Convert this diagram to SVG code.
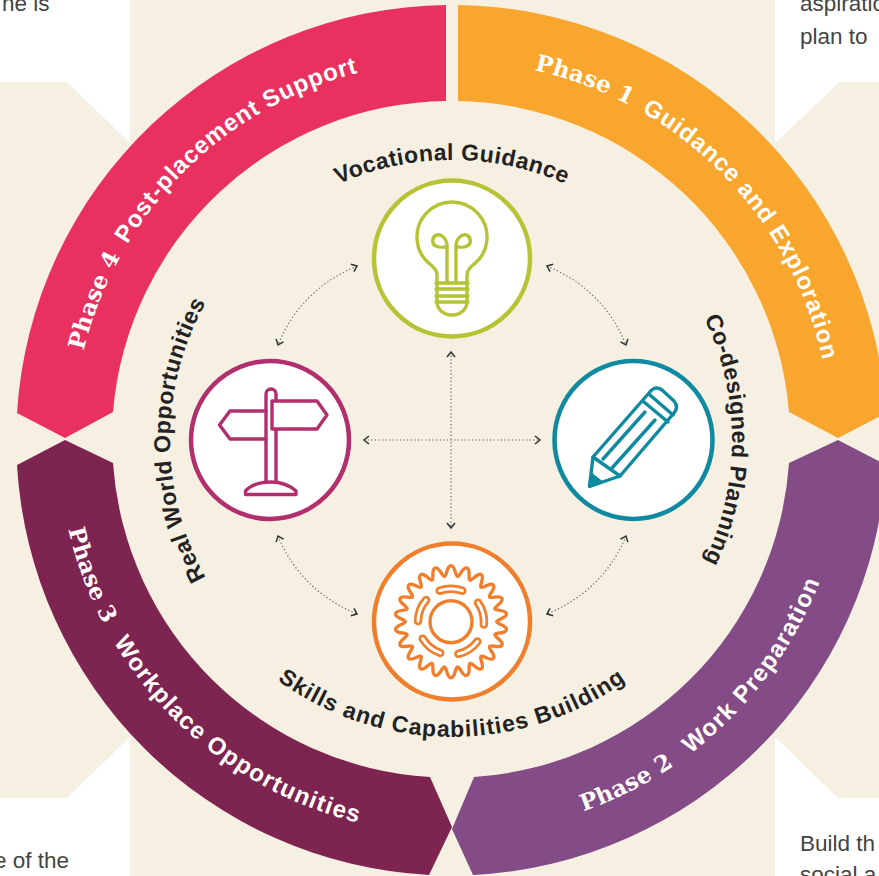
<svg xmlns="http://www.w3.org/2000/svg" width="879" height="876" viewBox="0 0 879 876">
<style>
.bg{fill:#f6f0e3}
.side{font-family:"Liberation Sans",Arial,sans-serif;font-size:22.5px;fill:#444}
.ph{font-family:"Liberation Sans",Arial,sans-serif;font-weight:700;font-size:24px;letter-spacing:.8px;fill:#fff}
.ph.wide{letter-spacing:1.2px}
.ser{font-family:"DejaVu Serif",serif;font-weight:700;font-size:23px;letter-spacing:.2px}
.lab{font-family:"Liberation Sans",Arial,sans-serif;font-weight:700;font-size:23px;letter-spacing:.45px;fill:#222}
.lab.wide{letter-spacing:1px}
.disc{fill:#fff;stroke-width:4.5}
.ic{fill:none;stroke-width:3.4;stroke-linejoin:round;stroke-linecap:round}
.con{fill:none;stroke:#555;stroke-width:1.1;stroke-dasharray:1.2 2.4;marker-start:url(#chev);marker-end:url(#chev)}
</style>
<defs>
<marker id="chev" viewBox="0 0 10 10" refX="8" refY="5" markerWidth="10" markerHeight="10" markerUnits="userSpaceOnUse" orient="auto-start-reverse">
<path d="M3 1L8 5L3 9" fill="none" stroke="#333" stroke-width="1.5"/>
</marker>
<path id="a1" d="M452 61A379 379 0 0 1 831 440"/>
<path id="a4" d="M73 440A379 379 0 0 1 452 61"/>
<path id="a3" d="M58 440A394 394 0 0 0 452 834"/>
<path id="a2" d="M452 834A394 394 0 0 0 846 440"/>
<path id="v" d="M172 440A280 280 0 0 1 732 440"/>
<path id="c" d="M452 160A280 280 0 0 1 452 720"/>
<path id="r" d="M452 722A282 282 0 0 1 452 158"/>
<path id="s" d="M155 440A297 297 0 0 0 749 440"/>
<path id="tooth" d="M-6.55 -45.5C-4 -45.5 -4.5 -56 0 -56C4.5 -56 4 -45.5 6.55 -45.5"/>
<path id="slot" d="M-11.3 -31A33 33 0 0 1 11.3 -31"/>
<g id="slotc"><use href="#slot" stroke="#ef7f2d" stroke-width="8.5" stroke-linecap="round" fill="none"/><use href="#slot" stroke="#fff" stroke-width="3" stroke-linecap="round" fill="none"/></g>
</defs>
<rect width="879" height="876" fill="#fff"/>
<g id="background">
<rect class="bg" x="130" y="0" width="645" height="876"/>
<path class="bg" d="M0 82H67L130 143V737L67 798H0Z"/>
<path class="bg" d="M879 82H840L775 143V737L838 798H879Z"/>
</g>
<g id="side-text">
<text class="side" x="2" y="11">ne is</text>
<text class="side" x="800" y="11">aspiratio</text>
<text class="side" x="800" y="44">plan to</text>
<text class="side" x="800" y="851">Build th</text>
<text class="side" x="800" y="882">social a</text>
<text class="side" x="-6" y="868">e of the</text>
</g>
<g id="phase-1">
<path fill="#f8a62d" d="M458 5A435 435 0 0 1 886 413L838 438L789 412A339 339 0 0 0 458 101Z"/>
<text class="ph"><textPath href="#a1" startOffset="83"><tspan class="ser">Phase 1</tspan><tspan dx="6"> Guidance and Exploration</tspan></textPath></text>
</g>
<g id="phase-2">
<path fill="#834c86" d="M886 465L838 440L789 463A338 338 0 0 1 474 777L452 829L473 875A436 436 0 0 0 886 465Z"/>
<text class="ph wide"><textPath href="#a2" startOffset="134"><tspan class="ser">Phase 2</tspan><tspan dx="12"> Work Preparation</tspan></textPath></text>
</g>
<g id="phase-3">
<path fill="#7d2450" d="M17 465L65 440L113 463A338 338 0 0 0 430 777L452 827L429 875A436 436 0 0 1 17 465Z"/>
<text class="ph wide"><textPath href="#a3" startOffset="90"><tspan class="ser">Phase 3</tspan><tspan dx="12"> Workplace Opportunities</tspan></textPath></text>
</g>
<g id="phase-4">
<path fill="#e8315f" d="M446 5A435 435 0 0 0 17 413L65 438L113 412A339 339 0 0 1 446 101Z"/>
<text class="ph"><textPath href="#a4" startOffset="90"><tspan class="ser">Phase 4</tspan><tspan dx="6"> Post-placement Support</tspan></textPath></text>
</g>
<g id="connectors">
<path class="con" d="M451 352V528"/>
<path class="con" d="M364 440H540"/>
<path class="con" d="M357 266Q300 290 278 345"/>
<path class="con" d="M547 266Q604 290 626 345"/>
<path class="con" d="M626 536Q604 590 547 614"/>
<path class="con" d="M278 536Q300 590 357 614"/>
</g>
<g id="vocational-guidance">
<circle class="disc" cx="452" cy="258.500" r="78" stroke="#b5c334"/>
<g class="ic" stroke="#b5c334">
<path d="M437 283V275Q437 270 431 265A35 35 0 1 1 473 265Q467 270 467 275V283"/>
<path d="M436 283H468M436 289H468M436 296H468M436 302H468"/>
<path d="M437 283V302A15 13 0 0 0 467 302V283"/>
<path d="M447 283V246C447 238 441 234 437 235C432 236 431 244 436 246C440 248 445 247 447 246"/>
<path d="M456 283V246C456 238 462 234 466 235C471 236 472 244 467 246C463 248 458 247 456 246"/>
</g>
<text class="lab"><textPath href="#v" startOffset="50%" text-anchor="middle">Vocational Guidance</textPath></text>
</g>
<g id="co-designed-planning">
<circle class="disc" cx="633.500" cy="440" r="79" stroke="#0f8aa0"/>
<g class="ic" stroke="#0f8aa0">
<path d="M593 457L649 393Q655 385 662 390L674 401Q679 407 674 413L620 476Z"/>
<path d="M593 457L589.500 486.500L620 476"/>
<path d="M603 459L645 412M612 468L655 420"/>
<path d="M644 402L668 422M650 395L673 415"/>
<path d="M590 486L592 475L601 482Z" fill="#0f8aa0"/>
</g>
<text class="lab"><textPath href="#c" startOffset="50%" text-anchor="middle">Co-designed Planning</textPath></text>
</g>
<g id="skills-and-capabilities-building">
<circle class="disc" cx="452" cy="621.500" r="78" stroke="#ef7f2d"/>
<g class="ic" stroke="#ef7f2d" transform="translate(451 621.7)">
<circle r="21"/>
<use href="#tooth"/><use href="#tooth" transform="rotate(16.36)"/><use href="#tooth" transform="rotate(32.73)"/><use href="#tooth" transform="rotate(49.09)"/><use href="#tooth" transform="rotate(65.45)"/><use href="#tooth" transform="rotate(81.82)"/><use href="#tooth" transform="rotate(98.18)"/><use href="#tooth" transform="rotate(114.55)"/><use href="#tooth" transform="rotate(130.91)"/><use href="#tooth" transform="rotate(147.27)"/><use href="#tooth" transform="rotate(163.64)"/><use href="#tooth" transform="rotate(180)"/><use href="#tooth" transform="rotate(196.36)"/><use href="#tooth" transform="rotate(212.73)"/><use href="#tooth" transform="rotate(229.09)"/><use href="#tooth" transform="rotate(245.45)"/><use href="#tooth" transform="rotate(261.82)"/><use href="#tooth" transform="rotate(278.18)"/><use href="#tooth" transform="rotate(294.55)"/><use href="#tooth" transform="rotate(310.91)"/><use href="#tooth" transform="rotate(327.27)"/><use href="#tooth" transform="rotate(343.64)"/>
<use href="#slotc"/><use href="#slotc" transform="rotate(75)"/><use href="#slotc" transform="rotate(147)"/><use href="#slotc" transform="rotate(219)"/><use href="#slotc" transform="rotate(291)"/>
</g>
<text class="lab wide"><textPath href="#s" startOffset="50%" text-anchor="middle">Skills and Capabilities Building</textPath></text>
</g>
<g id="real-world-opportunities">
<circle class="disc" cx="270" cy="440" r="79" stroke="#b12f6c"/>
<g class="ic" stroke="#b12f6c">
<path d="M266 482V394A5 5 0 0 1 276 394V482"/>
<path d="M272 401H317L327 415L317 429H272Z" fill="#fff"/>
<path d="M266 411H230L219.500 425L230 439H266"/>
<path d="M245.500 494.500H296V491C288 484 278 482 271 482C262 482 252 484 245.500 491Z"/>
</g>
<text class="lab"><textPath href="#r" startOffset="50%" text-anchor="middle">Real World Opportunities</textPath></text>
</g>
</svg>
